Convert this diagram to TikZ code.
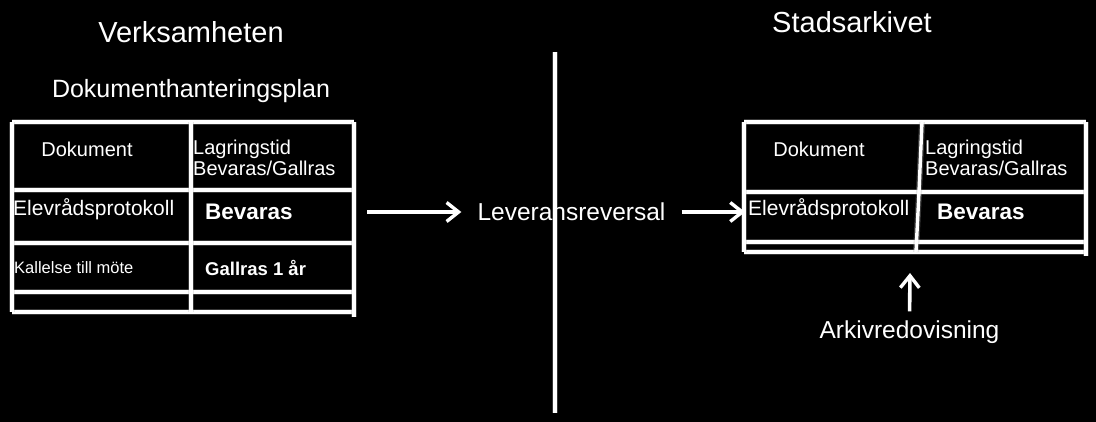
\documentclass[tikz,border=0pt]{standalone}
\usepackage{fontspec}
\setmainfont{Liberation Sans}
\usetikzlibrary{arrows.meta,positioning}

\begin{document}
\begin{tikzpicture}[
    x=1pt, y=-1pt,
    line/.style={white, line width=3.4pt, preaction={draw, gray!60, line width=6pt, opacity=0.3}},
    arrow/.style={-{Straight Barb[length=12pt,width=19pt,line width=3.4pt]}, white, line width=3.6pt},
    txt/.style={text=white, inner sep=0pt},
    head/.style={txt, font=\fontsize{29}{32}\selectfont},
    cell/.style={txt, anchor=west, font=\fontsize{20}{21}\selectfont},
    bold/.style={txt, anchor=west, font=\fontsize{22.5}{24}\selectfont\bfseries}
]

% Background
\fill[black] (0,0) rectangle (1096,422);
\useasboundingbox (0,0) rectangle (1096,422);

% Headings
\node[head] (verks) at (191,32) {Verksamheten};
\node[head] (stad) at (852,22) {Stadsarkivet};
\node[txt, font=\fontsize{25}{28}\selectfont] (plan) at (191,91) {Dokumenthanteringsplan};

% Left table
\foreach \y in {122,190,243,292,312} {
    \draw[line] (12,\y) -- (354,\y);
}
\draw[line] (12,122) -- (12,312);
\draw[line] (191,122) -- (191,312);
\draw[line] (354,122) -- (354,317);

\node[txt, font=\fontsize{20}{21}\selectfont] (l-dok) at (87,149) {Dokument};
\node[cell, align=left] (l-lag) at (193,158) {Lagringstid\\Bevaras/Gallras};
\node[cell, font=\fontsize{21}{23}\selectfont] (l-elev) at (13,209) {Elevrådsprotokoll};
\node[bold] (l-bev) at (205,212) {Bevaras};
\node[cell, font=\fontsize{16.5}{18}\selectfont] (l-kall) at (14,268) {Kallelse till möte};
\node[bold, font=\fontsize{18.5}{20}\selectfont\bfseries] (l-gall) at (205,268) {Gallras 1 år};

% Divider
\coordinate (div-top) at (555,52);
\coordinate (div-bot) at (555,413);
\draw[line] (div-top) -- (div-bot);

% Delivery
\node[txt, inner xsep=16pt, font=\fontsize{24.5}{27}\selectfont] (lev) at (571.5,212) {Leveransreversal};
\coordinate (l-out) at (367,212);
\draw[arrow] (l-out) -- (lev.west);

% Right table
\foreach \y in {122,192,242,252} {
    \draw[line] (744,\y) -- (1086,\y);
}
\draw[line] (744,122) -- (744,252);
\draw[line] (922,122) -- (919,192) -- (916,252);
\draw[line] (1086,122) -- (1086,256);

\node[txt, font=\fontsize{20}{21}\selectfont] (r-dok) at (819,149) {Dokument};
\node[cell, align=left] (r-lag) at (925,158) {Lagringstid\\Bevaras/Gallras};
\node[cell, font=\fontsize{21}{23}\selectfont] (r-elev) at (748,209) {Elevrådsprotokoll};
\node[bold] (r-bev) at (937,212) {Bevaras};

\draw[arrow, shorten >=3pt] (lev.east) -- (lev.east -| r-elev.west);

% Archive register
\node[txt, font=\fontsize{24.5}{27}\selectfont] (arkiv) at (909.5,332) {Arkivredovisning};
\coordinate (r-bot) at (910,273);
\draw[arrow, shorten <=9pt] (arkiv.north) -- (r-bot);

\end{tikzpicture}
\end{document}
